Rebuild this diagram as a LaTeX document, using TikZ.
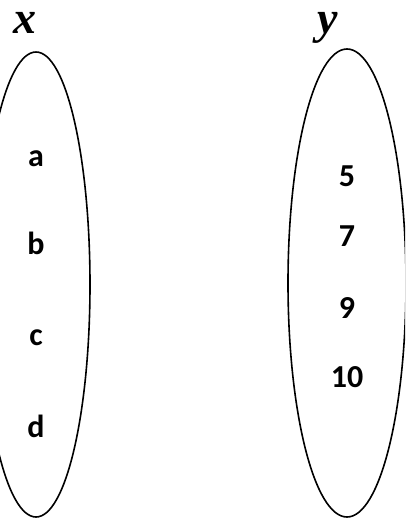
\documentclass[tikz,border=0pt]{standalone}
\usepackage{fontspec}
\setmainfont{Carlito}
\newfontfamily\namefont{Liberation Serif}

\begin{document}
\begin{tikzpicture}[x=1pt, y=-1pt, line width=1.6pt,
  elem/.style={font=\fontsize{32}{34}\selectfont\bfseries},
  setname/.style={font=\namefont\fontsize{46}{48}\selectfont\bfseries\itshape,
    inner sep=0pt, text height=0.46em, text depth=0.2em, anchor=base}]
  \useasboundingbox (0,0) rectangle (405,520);
  \clip (0,0) rectangle (405,520);
  % set names
  \node[setname] (xname) at (25,33) {x};
  \node[setname] (yname) at (328,33) {y};
  % left set
  \draw (36,284.5) ellipse (54 and 232.5);
  \node[elem] (a) at (36,159) {a};
  \node[elem] (b) at (36,243) {b};
  \node[elem] (c) at (36,338) {c};
  \node[elem] (d) at (36,426) {d};
  % right set
  \draw (347,283) ellipse (59 and 234);
  \node[elem] (n5) at (347,176) {5};
  \node[elem] (n7) at (347,236) {7};
  \node[elem] (n9) at (347,308) {9};
  \node[elem] (n10) at (347,377) {10};
\end{tikzpicture}
\end{document}
